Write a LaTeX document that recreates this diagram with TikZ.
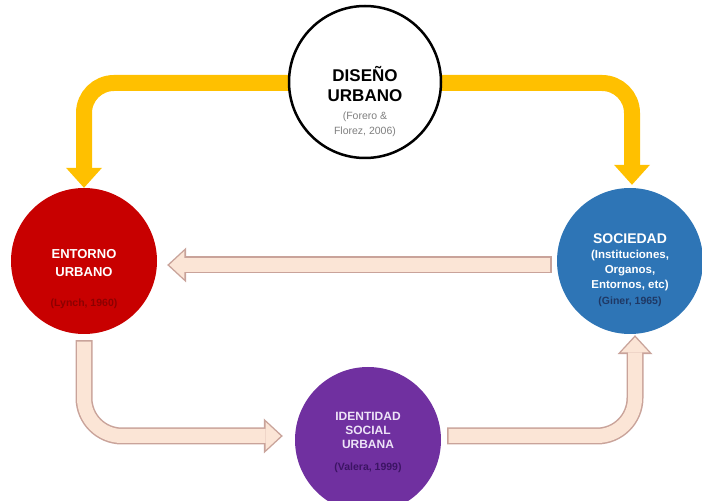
\documentclass[tikz,border=0pt]{standalone}
\usepackage{fontspec}
\setmainfont{Liberation Sans}
\usetikzlibrary{arrows.meta, positioning, backgrounds}
\definecolor{urbanYellow}{HTML}{FFC000}
\definecolor{urbanRed}{HTML}{C80000}
\definecolor{urbanBlue}{HTML}{2E75B6}
\definecolor{urbanPurple}{HTML}{7030A0}
\definecolor{flowFill}{HTML}{FBE5D6}
\definecolor{flowEdge}{HTML}{C9A39A}
\definecolor{citeGray}{HTML}{7F7F7F}
\definecolor{citeRed}{HTML}{8C0000}
\definecolor{citeBlue}{HTML}{1F3864}
\definecolor{citePurple}{HTML}{3C1464}
\definecolor{lavender}{HTML}{EDE3F7}

\tikzset{
  bubble/.style={circle, minimum size=146pt, inner sep=0pt},
  yellowflow/.style={draw=urbanYellow, line width=16pt, rounded corners=30pt,
    -{Triangle[width=36pt, length=20pt, line width=0pt]}},
  pinkflow/.style={preaction={draw=flowEdge, line width=17pt,
      shorten <=0pt, shorten >=0pt,
      -{Triangle[width=35pt, length=19pt, line width=0pt]}},
    draw=flowFill, line width=14pt, shorten <=1.5pt, shorten >=2.2pt,
    -{Triangle[width=28pt, length=15pt, line width=0pt]}, rounded corners=38pt},
}

\begin{document}
\begin{tikzpicture}[x=1pt, y=1pt]
  \useasboundingbox (0,0) rectangle (702,501);

  % circles
  \node[bubble, minimum size=152pt, fill=white, draw=black, line width=2.5pt] (diseno) at (365,419) {};
  \node[bubble, fill=urbanRed] (entorno) at (84,240) {};
  \node[bubble, fill=urbanBlue] (sociedad) at (630,240) {};
  \node[bubble, fill=urbanPurple] (identidad) at (368,61) {};

  % texts
  \node[align=center, font=\bfseries\fontsize{17}{20}\selectfont] (disenoTitle)
    at ([yshift=-2pt]diseno.center) {DISEÑO\\URBANO};
  \node[align=center, font=\fontsize{10.5}{15}\selectfont, text=citeGray] (disenoCite)
    at ([yshift=-42pt]diseno.center) {(Forero \&\\Florez, 2006)};

  \node[align=center, font=\bfseries\fontsize{13}{18}\selectfont, text=white] (entornoTitle)
    at ([yshift=-2pt]entorno.center) {ENTORNO\\URBANO};
  \node[font=\bfseries\fontsize{10.5}{13}\selectfont, text=citeRed] (entornoCite)
    at ([yshift=-43pt]entorno.center) {(Lynch, 1960)};

  \node[font=\bfseries\fontsize{14}{16}\selectfont, text=white] (sociedadTitle)
    at ([yshift=22pt]sociedad.center) {SOCIEDAD};
  \node[align=center, font=\bfseries\fontsize{11.5}{15}\selectfont, text=white] (sociedadList)
    at ([yshift=-10pt]sociedad.center) {(Instituciones,\\Organos,\\Entornos, etc)};
  \node[font=\bfseries\fontsize{10.5}{13}\selectfont, text=citeBlue] (sociedadCite)
    at ([yshift=-41pt]sociedad.center) {(Giner, 1965)};

  \node[align=center, font=\bfseries\fontsize{12}{14}\selectfont, text=lavender] (identidadTitle)
    at ([yshift=10pt]identidad.center) {IDENTIDAD\\SOCIAL\\URBANA};
  \node[font=\bfseries\fontsize{10.5}{13}\selectfont, text=citePurple] (identidadCite)
    at ([yshift=-28pt]identidad.center) {(Valera, 1999)};

  % connectors
  \begin{scope}[on background layer]
    \draw[yellowflow] ([xshift=6pt, yshift=-1pt]diseno.west) -| (entorno.north);
    \draw[yellowflow] ([xshift=-6pt, yshift=-1pt]diseno.east) -| ([xshift=2pt, yshift=3pt]sociedad.north);
    \draw[pinkflow] ([xshift=-5pt, yshift=-4pt]sociedad.west) -- ([xshift=10pt, yshift=-4pt]entorno.east);
    \draw[pinkflow] ([yshift=-6pt]entorno.south) |- ([xshift=-12pt, yshift=4pt]identidad.west);
    \draw[pinkflow] ([xshift=6pt, yshift=4pt]identidad.east) -| ([xshift=5pt, yshift=-1pt]sociedad.south);
  \end{scope}
\end{tikzpicture}
\end{document}
